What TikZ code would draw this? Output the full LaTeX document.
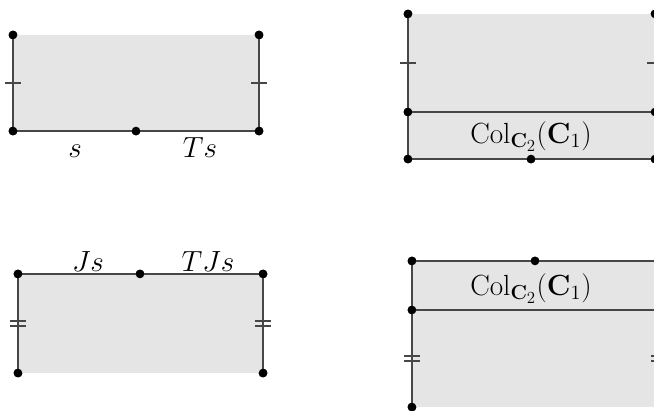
\documentclass[tikz,border=0pt]{standalone}
\usetikzlibrary{calc}
\usepackage{amsmath,amssymb}

\begin{document}
\begin{tikzpicture}[
    x=0.025cm, y=-0.025cm,
    every node/.style={font=\huge},
    face/.style={fill=black!10},
    edge/.style={line width=2.1pt, draw=black!72},
    vertex/.style={circle, fill=black, inner sep=0pt, minimum size=2.2mm},
    mark1/.style={line width=1.7pt, draw=black!72},
    mark2/.style={line width=1.4pt, draw=black!72},
    label/.style={anchor=base, inner sep=0pt}
]
\clip (0,0) rectangle (654,410);
% top left
\node[vertex] (tl1) at (13,35) {};
\node[vertex] (tl2) at (259,35) {};
\node[vertex] (tl3) at (259,131) {};
\node[vertex] (tl4) at (13,131) {};
\node[vertex] (tlm) at (136,131) {};
% top right
\node[vertex] (tr1) at (408,14) {};
\node[vertex] (tr2) at (655,14) {};
\node[vertex] (tr3) at (655,112) {};
\node[vertex] (tr4) at (408,112) {};
\node[vertex] (tr5) at (655,159) {};
\node[vertex] (tr6) at (408,159) {};
\node[vertex] (trm) at (531,159) {};
% bottom left
\node[vertex] (bl1) at (18,274) {};
\node[vertex] (bl2) at (263,274) {};
\node[vertex] (bl3) at (263,373) {};
\node[vertex] (bl4) at (18,373) {};
\node[vertex] (blm) at (140,274) {};
% bottom right
\node[vertex] (br1) at (412,261) {};
\node[vertex] (br2) at (659,261) {};
\node[vertex] (br3) at (659,310) {};
\node[vertex] (br4) at (412,310) {};
\node[vertex] (br5) at (659,407) {};
\node[vertex] (br6) at (412,407) {};
\node[vertex] (brm) at (535,261) {};

% faces
\fill[face] (tl1.center) rectangle (tl3.center);
\fill[face] (tr1.center) rectangle (tr5.center);
\fill[face] (bl1.center) rectangle (bl3.center);
\fill[face] (br1.center) rectangle (br5.center);

% edges
\draw[edge] (tl1.center) -- (tl4.center) -- (tl3.center) -- (tl2.center);
\draw[edge] (tr1.center) -- (tr6.center) -- (tr5.center) -- (tr2.center);
\draw[edge] (tr4.center) -- (tr3.center);
\draw[edge] (bl4.center) -- (bl1.center) -- (bl2.center) -- (bl3.center);
\draw[edge] (br6.center) -- (br1.center) -- (br2.center) -- (br5.center);
\draw[edge] (br4.center) -- (br3.center);

% tick marks
\foreach \a/\b in {tl1/tl4, tl2/tl3, tr1/tr4, tr2/tr3}
  \draw[mark1] ($(\a)!0.5!(\b)$) +(-8,0) -- +(8,0);
\foreach \a/\b in {bl1/bl4, bl2/bl3, br4/br6, br3/br5}
  \draw[mark2] ($(\a)!0.5!(\b)$) +(-8,-2.5) -- +(8,-2.5) +(-8,2.5) -- +(8,2.5);

% vertices on top
\foreach \v in {tl1,tl2,tl3,tl4,tlm,tr1,tr2,tr3,tr4,tr5,tr6,trm,bl1,bl2,bl3,bl4,blm,br1,br2,br3,br4,br5,br6,brm}
  \fill (\v) circle (4.3);

% labels
\node[label] (lbs) at ($(tl4)+(62,26)$) {$s$};
\node[label] (lbts) at ($(tlm)+(64,26)$) {$Ts$};
\node[label] (lbjs) at ($(bl1)+(70,-3)$) {$Js$};
\node[label] (lbtjs) at ($(blm)+(68,-3)$) {$TJs$};
\node[label] (lbc1) at ($(trm)+(0,-16)$) {$\mathrm{Col}_{\mathbf{C}_2}(\mathbf{C}_1)$};
\node[label] (lbc2) at ($(brm)+(-4,34)$) {$\mathrm{Col}_{\mathbf{C}_2}(\mathbf{C}_1)$};
\end{tikzpicture}
\end{document}
